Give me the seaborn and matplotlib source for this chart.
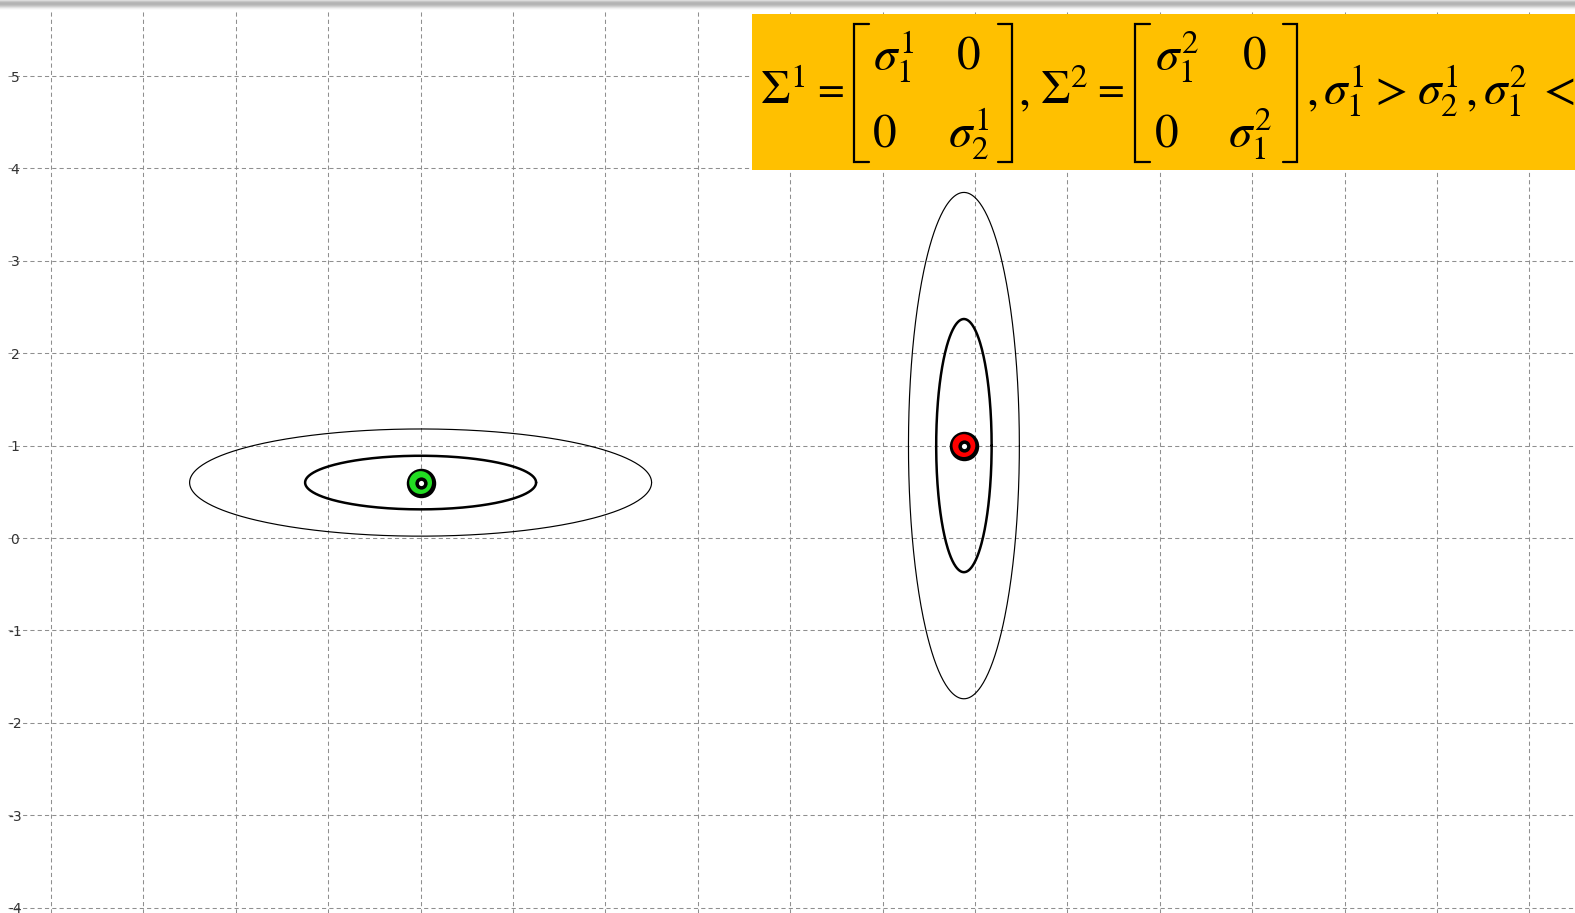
import numpy as np
import pandas as pd
import matplotlib
matplotlib.use("Agg")
import matplotlib.pyplot as plt
import seaborn as sns
from matplotlib.patches import Rectangle
from matplotlib.lines import Line2D

# ---- data -------------------------------------------------------------
class_names = ["class 1", "class 2"]
mean_x = [0.0, 5.88]
mean_y = [0.6, 1.0]
sigma_x = [1.25, 0.30]
sigma_y = [0.29, 1.37]
ring_colors = ["#22dd22", "#ff0000"]
contour_levels = [1, 2]            # contours drawn at 1 and 2 standard deviations
contour_widths = [1.8, 0.85]
y_ticks = [5, 4, 3, 2, 1, 0, -1, -2, -3, -4]
y_tick_labels = ["5", "4", "3", "2", "1", "0", "-1", "-2", "-3", "-4"]
x_ticks = list(range(-4, 13))

# ---- figure -----------------------------------------------------------
W, H, DPI = 1575, 913, 100
sns.set_style("whitegrid")
plt.rcParams["axes.unicode_minus"] = False
plt.rcParams["mathtext.fontset"] = "stix"

fig = plt.figure(figsize=(W / DPI, H / DPI), dpi=DPI)
fig.patch.set_facecolor("white")

left_px, top_px = 8, 10
ax = fig.add_axes([left_px / W, 0, 1 - left_px / W, 1 - top_px / H])
ax.set_facecolor("white")

unit = 92.4          # pixels per data unit
x0_px, y5_px = 420.6, 76.0
ax.set_xlim((left_px - x0_px) / unit, (W - x0_px) / unit)
ax.set_ylim(5 - (H - y5_px) / unit, 5 + (y5_px - top_px) / unit)

ax.set_xticks(x_ticks)
ax.set_xticklabels([])
ax.set_yticks(y_ticks)
ax.set_yticklabels(y_tick_labels, ha="center", fontsize=10, color="#333333")
ax.tick_params(axis="y", length=0, pad=-5.0)
ax.tick_params(axis="x", length=0)
ax.grid(True, linestyle=(0, (4, 3)), linewidth=0.75, color="#8f8f8f")
for s in ax.spines.values():
    s.set_visible(False)

# ---- covariance contours ---------------------------------------------
t = np.linspace(0, 2 * np.pi, 400)
for i in range(len(class_names)):
    for lev, lw in zip(contour_levels, contour_widths):
        df = pd.DataFrame({
            "x": mean_x[i] + lev * sigma_x[i] * np.cos(t),
            "y": mean_y[i] + lev * sigma_y[i] * np.sin(t),
        })
        sns.lineplot(data=df, x="x", y="y", sort=False, estimator=None,
                     color="black", linewidth=lw, ax=ax, zorder=3)

# ---- class means (concentric ring markers) ----------------------------
centers = pd.DataFrame({"x": mean_x, "y": mean_y, "name": class_names})
sns.scatterplot(data=centers, x="x", y="y", s=450, color="black",
                linewidth=0, ax=ax, zorder=4, legend=False)
sns.scatterplot(data=centers, x="x", y="y", hue="name", palette=ring_colors,
                s=270, linewidth=0, ax=ax, zorder=5, legend=False)
sns.scatterplot(data=centers, x="x", y="y", s=78, color="black",
                linewidth=0, ax=ax, zorder=6, legend=False)
sns.scatterplot(data=centers, x="x", y="y", s=14, color="white",
                linewidth=0, ax=ax, zorder=7, legend=False)
ax.set_xlabel("")
ax.set_ylabel("")

# ---- top window shading ----------------------------------------------
band = np.array([0.86, 0.78, 0.72, 0.70, 0.71, 0.75, 0.81, 0.88, 0.94, 0.98, 1.0])
band_ax = fig.add_axes([0, 1 - 11 / H, 1, 11 / H])
band_ax.imshow(np.repeat(band[:, None], 4, axis=1), cmap="gray", vmin=0, vmax=1,
               aspect="auto", interpolation="bilinear")
band_ax.axis("off")

# ---- formula box -----------------------------------------------------
def fx(x):
    return x / W

def fy(y):
    return 1 - y / H

box = Rectangle((fx(752), fy(170)), fx(W) - fx(752) + 0.01, (170 - 14) / H,
                transform=fig.transFigure, facecolor="#ffc000",
                edgecolor="none", zorder=10)
fig.add_artist(box)

fs = 34
pieces = [
    (760, 104, r"$\Sigma^{1}$", fs),
    (817, 102, "=", 28),
    (873, 70, r"$\sigma_{1}^{1}$", fs),
    (957, 70, "0", fs),
    (873, 147, "0", fs),
    (948, 147, r"$\sigma_{2}^{1}$", fs),
    (1018, 104, ",", fs),
    (1040, 104, r"$\Sigma^{2}$", fs),
    (1097, 102, "=", 28),
    (1155, 70, r"$\sigma_{1}^{2}$", fs),
    (1243, 70, "0", fs),
    (1155, 147, "0", fs),
    (1228, 147, r"$\sigma_{1}^{2}$", fs),
    (1306, 104, ",", fs),
    (1323, 104, r"$\sigma_{1}^{1}$", fs),
    (1375, 104, ">", fs),
    (1417, 104, r"$\sigma_{2}^{1}$", fs),
    (1465, 104, ",", fs),
    (1483, 104, r"$\sigma_{1}^{2}$", fs),
    (1543, 104, "<", fs),
]
for x, y, s, size in pieces:
    fig.text(fx(x), fy(y), s, fontsize=size, ha="left", va="baseline",
             family="STIXGeneral", color="black", zorder=11)

# matrix brackets: (x of vertical stroke, x of serif ends)
brackets = [(854, 869), (1012, 998), (1135, 1150), (1297, 1283)]
for xv, xs in brackets:
    fig.add_artist(Line2D([fx(v) for v in [xs, xv, xv, xs]],
                          [fy(v) for v in [24, 24, 162, 162]],
                          transform=fig.transFigure, color="black",
                          linewidth=1.6, solid_joinstyle="miter", zorder=11))

fig.savefig("out.png", dpi=DPI)
